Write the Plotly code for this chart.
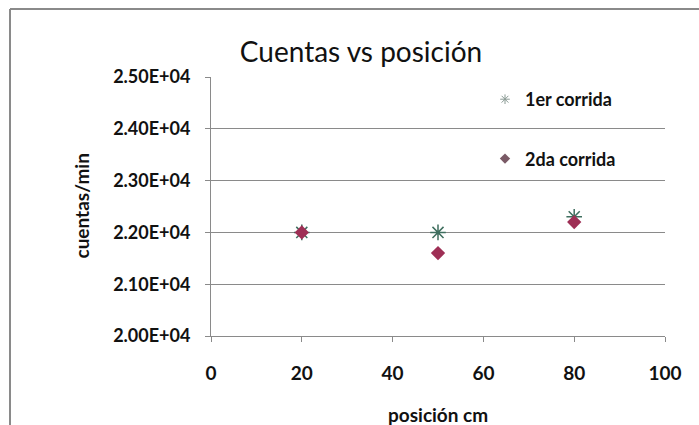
import plotly.graph_objects as go

positions = [20, 50, 80]
run1 = [22000, 22000, 22300]
run2 = [22000, 21600, 22200]
series_names = ["1er corrida", "2da corrida"]
y_ticks = [20000, 21000, 22000, 23000, 24000, 25000]
y_tick_text = ["2.00E+04", "2.10E+04", "2.20E+04", "2.30E+04", "2.40E+04", "2.50E+04"]
x_ticks = [0, 20, 40, 60, 80, 100]

FONT = "Lato"
GREY = "#8a8a8a"
C1 = "#3f6f5f"
C2 = "#9e2f55"

fig = go.Figure()
fig.add_trace(go.Scatter(
    x=positions, y=run1, mode="markers", name=series_names[0],
    showlegend=False,
    marker=dict(symbol="asterisk-open", size=13,
                line=dict(color=C1, width=1.5), color=C1),
))
fig.add_trace(go.Scatter(
    x=positions, y=run2, mode="markers", name=series_names[1],
    showlegend=False,
    marker=dict(symbol="diamond", size=11, color=C2, line=dict(width=0)),
))
# legend entries with small symbols, as in the reference
fig.add_trace(go.Scatter(
    x=[None], y=[None], mode="markers", name=series_names[0], legendgroup="a",
    marker=dict(symbol="asterisk-open", size=8, color="#8a9a94",
                line=dict(color="#8a9a94", width=1)),
))
fig.add_trace(go.Scatter(
    x=[None], y=[None], mode="markers", name=series_names[1], legendgroup="b",
    marker=dict(symbol="diamond", size=8, color="#7a5a66"),
))

fig.update_layout(
    width=699, height=425,
    margin=dict(l=211, r=34, t=77, b=89),
    paper_bgcolor="white", plot_bgcolor="white",
    font=dict(family=FONT, color="#111"),
    title=dict(text="Cuentas vs posición", x=(361 - 211) / 454, xref="paper",
               xanchor="center", y=1 - 52 / 425, yanchor="middle",
               font=dict(family=FONT, size=28, color="#111")),
    showlegend=True,
    legend=dict(x=(485 - 211) / 454, xanchor="left", y=(336 - 81) / 259, yanchor="top",
                bgcolor="rgba(0,0,0,0)", tracegroupgap=33, itemwidth=30,
                font=dict(family=FONT, size=18, color="#111", weight="bold")),
)
fig.update_xaxes(
    range=[0, 100], tickvals=x_ticks, showgrid=False, zeroline=False,
    showline=True, linecolor=GREY, linewidth=1,
    ticks="outside", ticklen=5, tickcolor=GREY,
    tickfont=dict(family=FONT, size=19, color="#111", weight="bold"),
    ticklabelstandoff=15,
)
fig.update_yaxes(
    range=[20000, 25000], tickvals=y_ticks, ticktext=y_tick_text,
    showgrid=True, gridcolor=GREY, gridwidth=1, zeroline=False,
    showline=True, linecolor=GREY, linewidth=1,
    ticks="outside", ticklen=5, tickcolor=GREY,
    tickfont=dict(family=FONT, size=18, color="#111", weight="bold"),
    ticklabelstandoff=11,
)
fig.add_annotation(text="<b>cuentas/min</b>", xref="paper", yref="paper",
                   x=(81 - 211) / 454, y=0.5, textangle=-90, showarrow=False,
                   xanchor="center", yanchor="middle",
                   font=dict(family=FONT, size=19, color="#111"))
fig.add_annotation(text="<b>posición cm</b>", xref="paper", yref="paper",
                   x=0.5, y=(336 - 414) / 259, showarrow=False,
                   xanchor="center", yanchor="middle",
                   font=dict(family=FONT, size=19, color="#111"))
# outer chart border (top and left edges visible)
fig.add_shape(type="line", xref="paper", yref="paper",
              x0=(10 - 211) / 454, x1=(699 - 211) / 454,
              y0=(336 - 9) / 259, y1=(336 - 9) / 259,
              line=dict(color=GREY, width=2))
fig.add_shape(type="line", xref="paper", yref="paper",
              x0=(10 - 211) / 454, x1=(10 - 211) / 454,
              y0=(336 - 9) / 259, y1=(336 - 425) / 259,
              line=dict(color=GREY, width=2))

fig.write_html("out.html")
